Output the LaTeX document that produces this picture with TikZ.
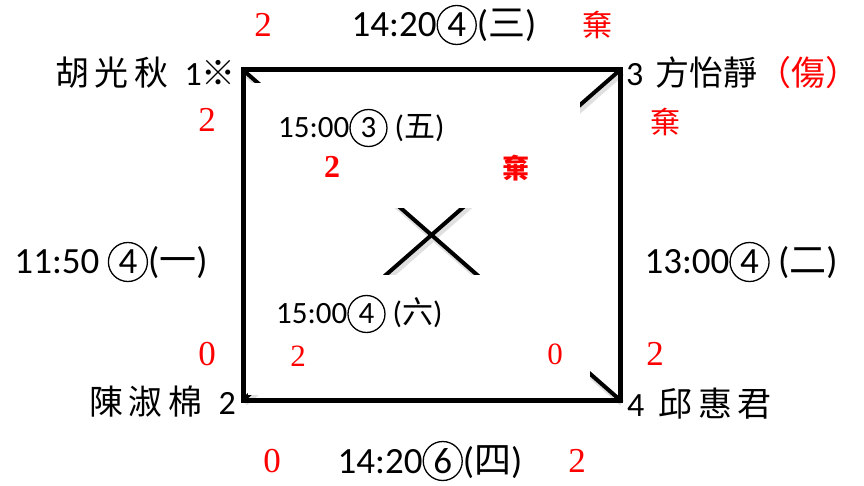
\documentclass[tikz,border=0pt]{standalone}
\usepackage{fontspec}
\setmainfont{Carlito}
\newfontfamily\cjk{Noto Sans CJK TC}
\newfontfamily\scorefont{Liberation Serif}
\newcommand{\zh}[1]{{\cjk #1}}
\newcommand{\cnum}[2][39pt]{\tikz[baseline=(cn.base)]\node[draw,circle,line width=1.3pt,
  inner sep=0pt,minimum size=#1,outer sep=0pt] (cn) {#2};}
\usetikzlibrary{positioning,calc}

\begin{document}
\begin{tikzpicture}[x=1pt,y=-1pt,
  match/.style={inner sep=0pt,font=\fontsize{37}{37}\selectfont},
  inmatch/.style={inner sep=0pt,font=\fontsize{31}{31}\selectfont},
  player/.style={inner sep=0pt,font=\fontsize{34}{34}\selectfont},
  score/.style={inner sep=0pt,text=red,font=\scorefont\fontsize{35}{35}\selectfont},
  quit/.style={inner sep=0pt,text=red,font=\cjk\fontsize{30}{30}\selectfont},
  court/.style={line width=5pt,line join=miter},
  diag/.style={line width=4pt},
  diagshade/.style={line width=6pt,black!12}
]
  \useasboundingbox (0,0) rectangle (864,486);
  % Corners
  \coordinate (p1) at (243,70);
  \coordinate (p3) at (620,70);
  \coordinate (p4) at (620,400);
  \coordinate (p2) at (243,400);
  % Diagonals with a soft shade
  \draw[diagshade] ($(p1)+(2,3)$) -- ($(p4)+(2,3)$);
  \draw[diagshade] ($(p3)+(2,3)$) -- ($(p2)+(2,3)$);
  \draw[diag] (p1) -- (p4);
  \draw[diag] (p3) -- (p2);
  % White cover boxes
  \fill[white] (248,83) rectangle (580,208);
  \fill[white] (248,275) rectangle (590,395);
  \draw[court] (p1) -- (p3) -- (p4) -- (p2) -- cycle;
  % Players
  \node[player,anchor=east] (hu) at (236,73) {\zh{胡\,光\,秋}\hspace{16pt}1\zh{※}};
  \node[player,anchor=west] (fang) at (626,73) {3\hspace{12pt}\zh{方怡靜}\textcolor{red}{\zh{（傷）}}};
  \node[player,anchor=east] (chen) at (236,402) {\zh{陳\,淑\,棉}\hspace{16pt}2};
  \node[player,anchor=west] (chiu) at (627,404) {4\hspace{14pt}\zh{邱\,惠\,君}};
  % Matches on the sides
  \node[match] (m3) at (444,25) {14:20\cnum{4}(\zh{三})};
  \node[match] (m1) at (111,262) {11:50 \cnum{4}(\zh{一})};
  \node[match] (m2) at (741,262) {13:00\cnum{4} (\zh{二})};
  \node[match] (m4) at (430,461) {14:20\cnum{6}(\zh{四})};
  % Matches on the diagonals
  \node[inmatch,anchor=west] (m5) at (278,128) {15:00\cnum[37pt]{3} (\zh{五})};
  \node[inmatch,anchor=west] (m6) at (276,314) {15:00\cnum[37pt]{4} (\zh{六})};
  % Scores
  \node[score] (s3a) at (263,25) {2};
  \node[quit] (s3b) at (597,25) {棄};
  \node[score] (s1a) at (207,120) {2};
  \node[quit] (s2a) at (665,122) {棄};
  \node[score,font=\scorefont\bfseries\fontsize{32}{32}\selectfont] (s5a) at (332,167) {2};
  \node[quit,font=\cjk\bfseries\fontsize{27}{27}\selectfont] (s5b) at (516,168) {棄};
  \node[score] (s1b) at (207,354) {0};
  \node[score,font=\scorefont\fontsize{31}{31}\selectfont] (s6a) at (298,356) {2};
  \node[score,font=\scorefont\fontsize{31}{31}\selectfont] (s6b) at (555,354) {0};
  \node[score] (s2b) at (655,354) {2};
  \node[score] (s4a) at (272,461) {0};
  \node[score] (s4b) at (577,461) {2};
\end{tikzpicture}
\end{document}
